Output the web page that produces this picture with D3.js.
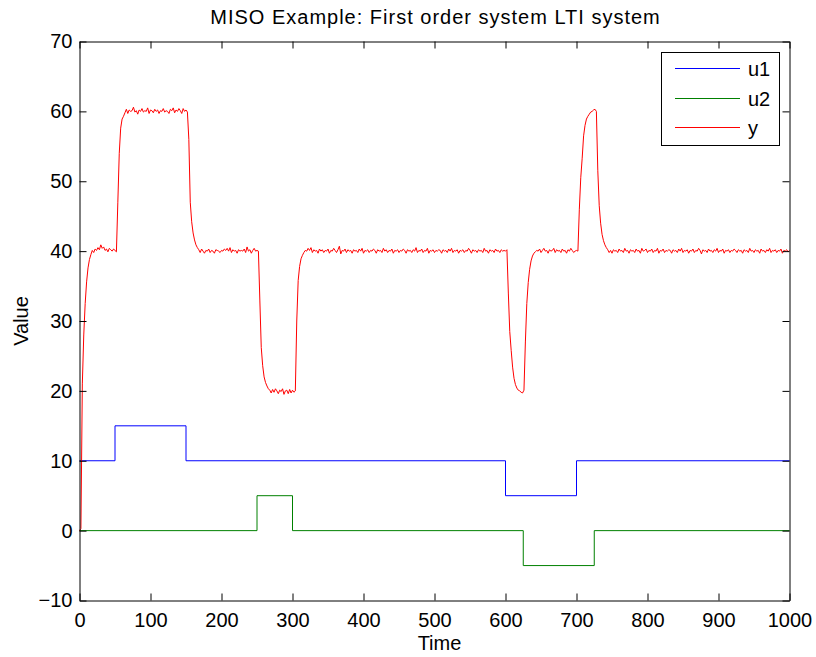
<!DOCTYPE html>
<html>
<head>
<meta charset="utf-8">
<script src="https://cdn.jsdelivr.net/npm/d3@7"></script>
<style>
  html, body { margin: 0; padding: 0; background: #fff; }
  svg { display: block; font-family: "Liberation Sans", Arial, Helvetica, sans-serif; }
</style>
</head>
<body>
<svg id="chart" width="816" height="657"></svg>
<script>
// ---- data ----
const titleText = "MISO Example: First order system LTI system";
const xLabel = "Time";
const yLabel = "Value";
const xTicks = [0, 100, 200, 300, 400, 500, 600, 700, 800, 900, 1000];
const yTicks = [-10, 0, 10, 20, 30, 40, 50, 60, 70];
const seriesNames = ["u1", "u2", "y"];
const seriesColors = ["#0000ff", "#008000", "#ff0000"];

// input u1: step changes [time, value]
const u1Steps = [[0, 10], [50, 15], [150, 10], [600, 5], [700, 10], [1000, 10]];
// input u2: step changes [time, value]
const u2Steps = [[0, 0], [250, 5], [300, 0], [625, -5], [725, 0], [1000, 0]];

const yStep = 2;
const yValues = [
  0, 0.3, 21, 28, 32.5, 35.6, 37.6, 38.8, 39.5, 40.1,
  39.8, 40.3, 40.1, 40.5, 40.2, 40.9, 40.4, 40.6, 40.1, 40.3,
  39.9, 40.4, 40.2, 40.0, 40.3, 40.1, 39.9, 47, 54, 57.6,
  58.9, 59.3, 59.8, 60.3, 59.7, 60.2, 60.0, 60.1, 60.6, 59.9,
  60.1, 59.6, 60.2, 60.0, 60.4, 59.9, 60.1, 60.0, 60.5, 59.7,
  60.2, 60.1, 59.8, 60.3, 60.0, 60.2, 59.7, 60.1, 60.0, 60.4,
  59.9, 60.1, 60.0, 59.7, 60.3, 60.1, 60.5, 59.8, 60.2, 60.0,
  60.4, 60.1, 59.7, 60.4, 60.0, 60.2, 59.9, 56, 47, 44.2,
  42.6, 41.6, 40.9, 40.5, 40.2, 39.8, 40.3, 40.0, 39.7, 40.1,
  40.0, 40.3, 39.8, 40.1, 40.0, 39.7, 40.2, 40.1, 40.0, 39.8,
  40.1, 40.0, 40.3, 40.1, 40.4, 40.0, 40.5, 39.8, 40.2, 40.0,
  40.1, 39.7, 40.2, 40.0, 40.1, 40.0, 40.3, 39.8, 40.6, 40.0,
  40.2, 39.7, 40.1, 40.4, 40.0, 40.1, 40.0, 33, 26.2, 23.6,
  22.0, 21.2, 20.7, 20.3, 20.1, 19.7, 20.2, 19.8, 20.3, 20.0,
  19.6, 20.1, 19.9, 20.3, 19.5, 20.0, 20.1, 19.6, 20.2, 19.7,
  20.1, 19.8, 20.0, 30, 35.8, 37.8, 38.9, 39.4, 39.8, 40.1,
  40.0, 40.4, 40.1, 40.5, 39.8, 40.2, 40.0, 40.1, 39.7, 40.3,
  40.0, 40.2, 39.8, 40.1, 40.0, 40.3, 39.7, 40.1, 40.0, 40.4,
  40.1, 39.8, 40.2, 40.7, 39.6, 40.1, 40.0, 40.3, 39.8, 40.2,
  40.0, 40.1, 39.7, 40.2, 40.0, 40.1, 39.8, 40.3, 40.0, 40.4,
  39.7, 40.1, 40.0, 40.2, 39.8, 40.1, 40.0, 40.3, 40.1, 39.7,
  40.2, 40.0, 40.1, 39.8, 40.4, 40.0, 40.2, 39.8, 40.1, 40.0,
  40.3, 39.7, 40.1, 40.0, 40.2, 39.8, 40.1, 40.0, 40.3, 40.1,
  39.7, 40.2, 40.0, 40.1, 39.8, 40.2, 40.0, 40.5, 39.8, 40.1,
  40.0, 40.3, 39.8, 40.1, 40.0, 40.4, 39.7, 40.1, 40.0, 40.2,
  39.8, 40.1, 40.0, 40.2, 40.1, 39.7, 40.2, 40.0, 40.1, 39.8,
  40.3, 40.0, 40.4, 39.8, 40.1, 40.0, 40.2, 39.7, 40.1, 40.0,
  40.2, 39.8, 40.1, 40.0, 40.4, 40.1, 39.7, 40.2, 40.0, 40.1,
  39.8, 40.2, 40.0, 40.1, 39.8, 40.4, 40.0, 40.1, 39.7, 40.2,
  40.0, 40.1, 39.8, 40.3, 40.0, 40.1, 39.8, 40.2, 40.0, 40.1,
  40.0, 40.2, 34, 28.5, 25.8, 23.4, 21.8, 20.9, 20.4, 20.1,
  20.0, 19.8, 19.7, 20.1, 27, 32.5, 35.5, 37.4, 38.6, 39.3,
  39.7, 39.9, 40.1, 40.0, 40.3, 39.8, 40.1, 40.4, 40.0, 40.1,
  39.7, 40.2, 40.0, 40.1, 40.4, 39.8, 40.2, 40.0, 40.1, 39.8,
  40.3, 40.0, 40.1, 39.7, 40.2, 40.0, 40.4, 40.1, 39.8, 40.0,
  40.1, 40.0, 46, 50.5, 53.3, 56.5, 58.0, 58.9, 59.3, 59.6,
  59.9, 60.0, 60.2, 60.3, 60.0, 51.5, 46.5, 44.0, 42.4, 41.5,
  40.9, 40.5, 40.2, 39.8, 40.1, 39.7, 40.2, 40.0, 40.1, 39.8,
  40.3, 40.0, 40.1, 39.8, 40.4, 40.0, 40.1, 39.7, 40.2, 40.0,
  40.1, 39.8, 40.3, 40.0, 40.1, 39.7, 40.4, 40.0, 40.1, 40.3,
  39.8, 40.1, 40.0, 40.3, 39.8, 40.1, 40.0, 40.4, 39.7, 40.1,
  40.0, 40.3, 39.8, 40.1, 40.0, 40.2, 40.1, 39.7, 40.2, 40.0,
  40.1, 39.8, 40.3, 40.0, 40.4, 39.8, 40.1, 40.0, 40.2, 39.7,
  40.1, 40.0, 40.3, 39.8, 40.1, 40.0, 40.4, 40.1, 39.6, 40.2,
  40.0, 40.1, 39.8, 40.3, 40.0, 40.1, 39.8, 40.2, 40.0, 40.4,
  39.8, 40.1, 40.0, 40.3, 39.7, 40.1, 40.0, 40.2, 39.8, 40.1,
  40.0, 40.3, 40.1, 39.8, 40.2, 40.0, 40.1, 39.7, 40.2, 40.0,
  40.1, 39.8, 40.4, 40.0, 40.1, 39.8, 40.2, 40.0, 40.1, 39.7,
  40.3, 40.0, 40.1, 39.8, 40.2, 40.0, 40.4, 39.8, 40.1, 40.0,
  40.2, 39.8, 40.1, 40.0, 40.3, 39.7, 40.1, 40.0, 40.2, 39.9,
  40.1
];

// ---- layout ----
const W = 816, H = 657;
const plotLeft = 79.5, plotRight = 789.5, plotTop = 41.5, plotBottom = 600.5;
const fontSize = 20;

const svg = d3.select("#chart");

const x = d3.scaleLinear().domain([0, 1000]).range([plotLeft, plotRight]);
const y = d3.scaleLinear().domain([-10, 70]).range([plotBottom, plotTop]);

// ---- series ----
const lineXY = d3.line().x(d => x(d[0])).y(d => y(d[1]));
const stepLine = d3.line().x(d => x(d[0])).y(d => y(d[1])).curve(d3.curveStepAfter);

const yPoints = yValues.map((v, i) => [i * yStep, v]);

const plot = svg.append("g");
plot.append("path").datum(u1Steps).attr("d", stepLine)
  .attr("fill", "none").attr("stroke", seriesColors[0]).attr("stroke-width", 1);
plot.append("path").datum(u2Steps).attr("d", stepLine)
  .attr("fill", "none").attr("stroke", seriesColors[1]).attr("stroke-width", 1);
plot.append("path").datum(yPoints).attr("d", lineXY)
  .attr("fill", "none").attr("stroke", seriesColors[2]).attr("stroke-width", 1)
  .attr("stroke-linejoin", "round");

// ---- axes ----
const tickLen = 7;
function styleAxis(g) {
  g.selectAll("path.domain").attr("stroke", "#000").attr("stroke-width", 1);
  g.selectAll(".tick line").attr("stroke", "#000").attr("stroke-width", 1);
  g.selectAll(".tick text").attr("fill", "#000")
    .style("font-family", "'Liberation Sans', Arial, sans-serif").style("font-size", fontSize + "px");
}

const xAxisB = d3.axisBottom(x).tickValues(xTicks).tickFormat(d3.format("d"))
  .tickSizeInner(-tickLen).tickSizeOuter(0).tickPadding(12);
svg.append("g").attr("transform", `translate(0,${plotBottom})`).call(xAxisB).call(styleAxis);

const fmtY = d => d < 0 ? "\u2212" + Math.abs(d) : String(d);
const yAxisL = d3.axisLeft(y).tickValues(yTicks).tickFormat(fmtY)
  .tickSizeInner(-tickLen).tickSizeOuter(0).tickPadding(7);
svg.append("g").attr("transform", `translate(${plotLeft},0)`).call(yAxisL).call(styleAxis);

const xAxisT = d3.axisTop(x).tickValues(xTicks).tickFormat("")
  .tickSizeInner(-tickLen).tickSizeOuter(0);
svg.append("g").attr("transform", `translate(0,${plotTop})`).call(xAxisT).call(styleAxis);

const yAxisR = d3.axisRight(y).tickValues(yTicks).tickFormat("")
  .tickSizeInner(-tickLen).tickSizeOuter(0);
svg.append("g").attr("transform", `translate(${plotRight},0)`).call(yAxisR).call(styleAxis);

// ---- labels ----
svg.append("text").attr("x", (plotLeft + plotRight) / 2 + 1).attr("y", 24)
  .attr("text-anchor", "middle").style("font-size", fontSize + "px")
  .style("letter-spacing", "1px").text(titleText);
svg.append("text").attr("x", (plotLeft + plotRight) / 2 + 5).attr("y", 650)
  .attr("text-anchor", "middle").style("font-size", fontSize + "px").text(xLabel);
svg.append("text").attr("transform", `translate(28,${(plotTop + plotBottom) / 2}) rotate(-90)`)
  .attr("text-anchor", "middle").style("font-size", fontSize + "px").text(yLabel);

// ---- legend ----
const legend = svg.append("g");
legend.append("rect").attr("x", 661.5).attr("y", 52.5).attr("width", 118).attr("height", 93)
  .attr("fill", "#fff").attr("stroke", "#000").attr("stroke-width", 1);
const rowY = [68.5, 98.5, 127.5];
seriesNames.forEach((name, i) => {
  legend.append("line").attr("x1", 675).attr("x2", 740).attr("y1", rowY[i]).attr("y2", rowY[i])
    .attr("stroke", seriesColors[i]).attr("stroke-width", 1);
  legend.append("text").attr("x", 748).attr("y", rowY[i] + 7)
    .style("font-size", fontSize + "px").text(name);
});
</script>
</body>
</html>
